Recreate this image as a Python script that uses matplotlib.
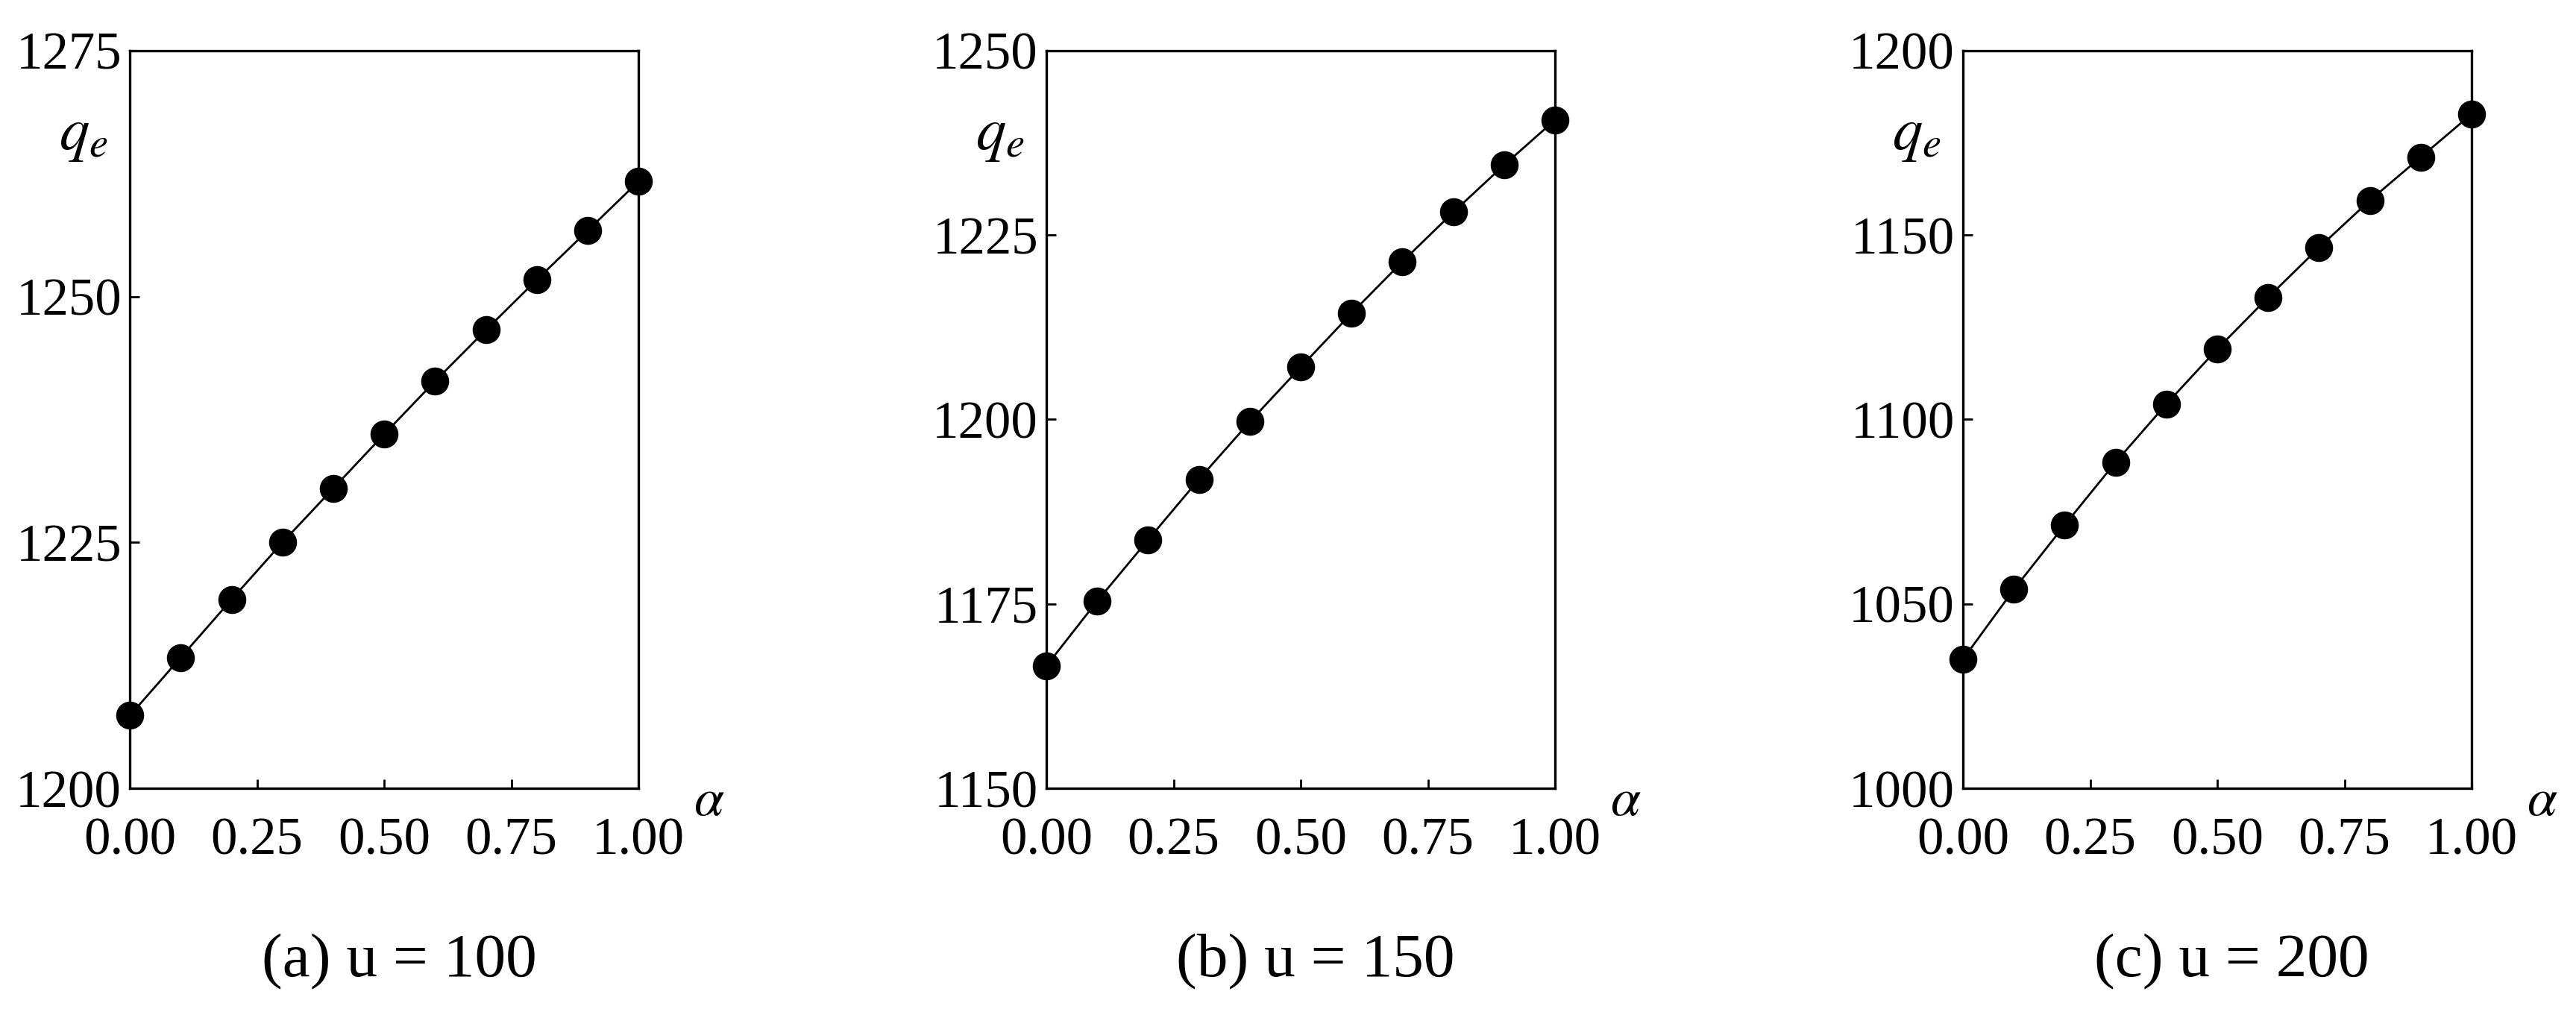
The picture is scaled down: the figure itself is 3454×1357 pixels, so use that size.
import matplotlib.pyplot as plt

# Data
alpha = [0.0, 0.1, 0.2, 0.3, 0.4, 0.5, 0.6, 0.7, 0.8, 0.9, 1.0]
qe_u100 = [1207.4, 1213.3, 1219.2, 1225.0, 1230.5, 1236.0, 1241.4, 1246.6, 1251.7, 1256.7, 1261.7]
qe_u150 = [1166.6, 1175.4, 1183.7, 1191.9, 1199.7, 1207.1, 1214.4, 1221.4, 1228.1, 1234.5, 1240.6]
qe_u200 = [1035.0, 1053.9, 1071.4, 1088.4, 1104.2, 1119.1, 1133.1, 1146.6, 1159.4, 1171.1, 1182.8]

captions = ["(a) u = 100", "(b) u = 150", "(c) u = 200"]
y_ranges = [(1200, 1275, 25), (1150, 1250, 25), (1000, 1200, 50)]
x_ticks = [0.0, 0.25, 0.5, 0.75, 1.0]
x_ticklabels = ["0.00", "0.25", "0.50", "0.75", "1.00"]

plt.rcParams['font.family'] = ['Liberation Serif', 'DejaVu Serif']
plt.rcParams['mathtext.fontset'] = 'stix'

fig = plt.figure(figsize=(34.55, 13.57), dpi=100)
lefts = [0.0504, 0.4061, 0.7618]

for left, qe, cap, (y0, y1, step) in zip(lefts, [qe_u100, qe_u150, qe_u200], captions, y_ranges):
    ax = fig.add_axes([left, 0.2210, 0.1974, 0.7290])
    ax.plot(alpha, qe, color='black', linewidth=2, marker='o', markersize=26,
            clip_on=False, zorder=3)
    ax.set_xlim(0, 1)
    ax.set_ylim(y0, y1)
    ax.set_xticks(x_ticks)
    ax.set_xticklabels(x_ticklabels)
    ax.set_yticks(list(range(y0, y1 + 1, step)))
    ax.tick_params(direction='in', length=9, width=2, labelsize=51, colors='black')
    ax.tick_params(axis='x', pad=28)
    ax.tick_params(axis='y', pad=8)
    for sp in ax.spines.values():
        sp.set_linewidth(2.4)

    # axis symbols
    ax.text(-0.092, 0.884, r'$q_e$', transform=ax.transAxes, fontsize=58,
            ha='center', va='center')
    ax.text(1.139, -0.019, r'$\alpha$', transform=ax.transAxes, fontsize=52,
            ha='center', va='center')

    # sub-figure caption
    ax.text(0.529, -0.235, cap, transform=ax.transAxes, fontsize=60,
            ha='center', va='center')

fig.savefig('out.png', dpi=100)
